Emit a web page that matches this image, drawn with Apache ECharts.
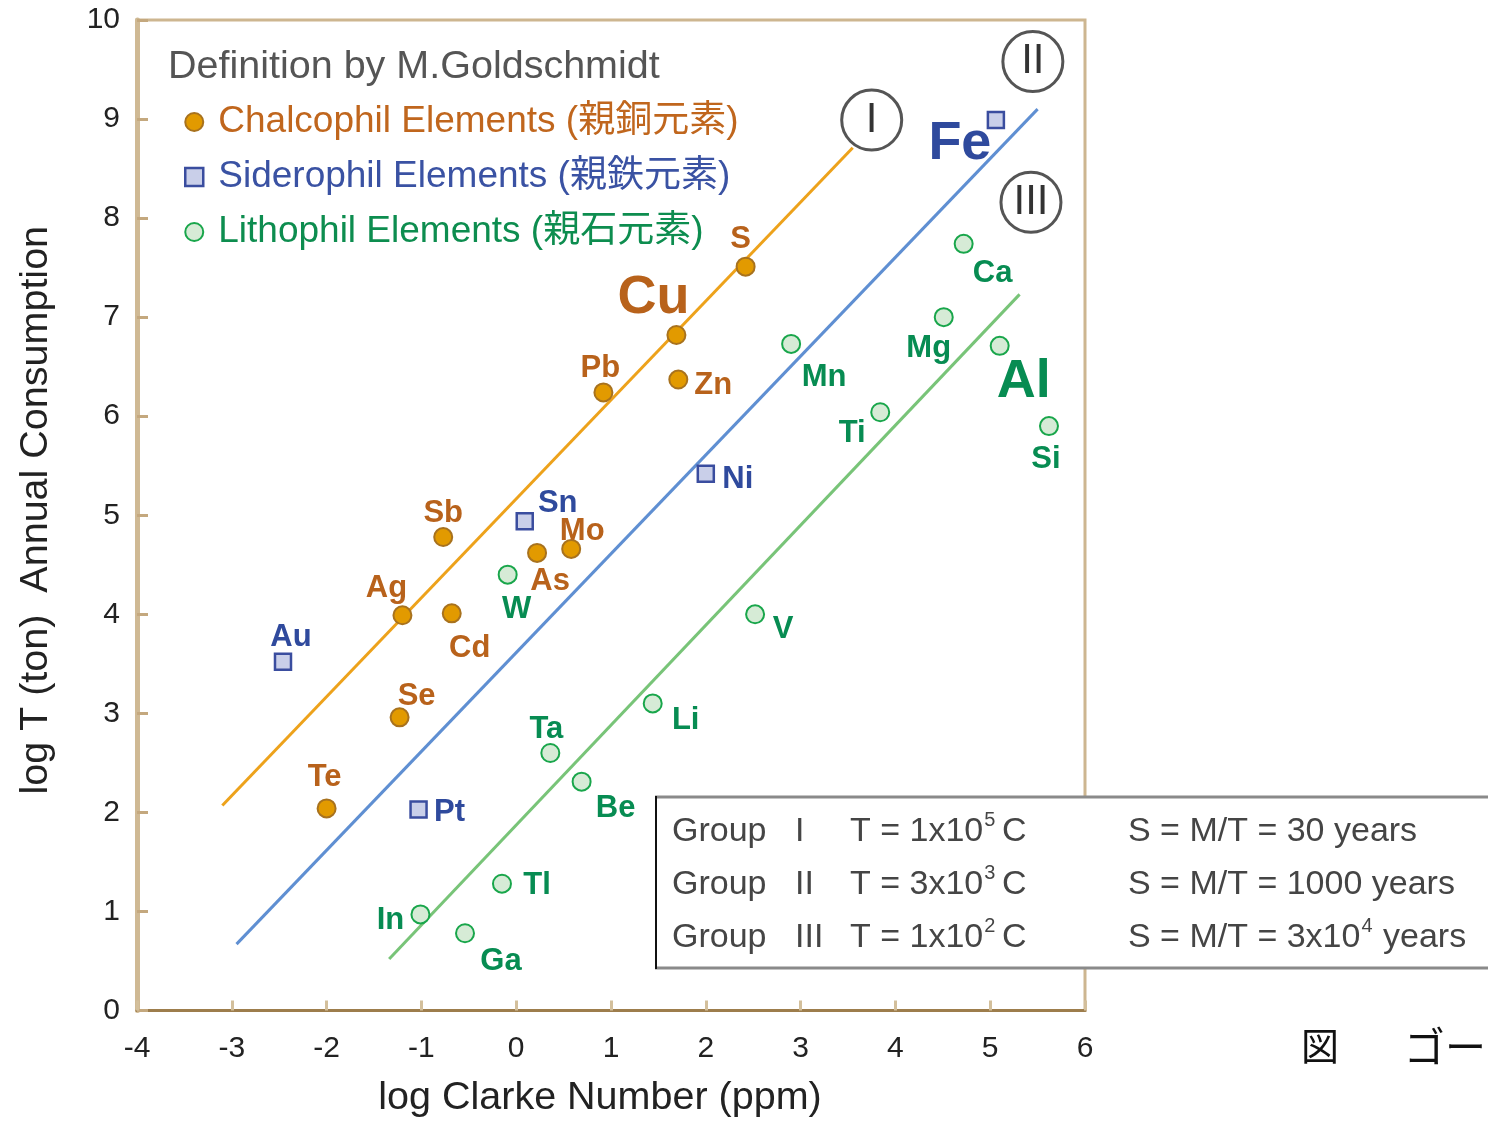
<!DOCTYPE html>
<html>
<head>
<meta charset="utf-8">
<title>Goldschmidt classification — consumption vs. Clarke number</title>
<script src="https://cdn.jsdelivr.net/npm/echarts@6/dist/echarts.min.js"></script>
<style>
  html, body { margin: 0; padding: 0; background: #fff; }
  #chart { width: 1488px; height: 1123px; }
</style>
</head>
<body>
<div id="chart"></div>
<script>
// ---- data -------------------------------------------------------------
// log Clarke number (ppm) vs. log annual consumption T (ton)
const xRange = [-4, 6];
const yRange = [0, 10];

const chalcoNames       = ['S', 'Cu', 'Pb', 'Zn', 'Sb', 'Ag', 'Cd', 'As', 'Mo', 'Se', 'Te'];
const chalcoClarke      = [2.42, 1.69, 0.92, 1.71, -0.77, -1.20, -0.68, 0.22, 0.58, -1.23, -2.00];
const chalcoConsumption = [7.51, 6.82, 6.24, 6.37, 4.78, 3.99, 4.01, 4.62, 4.66, 2.96, 2.04];

const sideroNames       = ['Fe', 'Ni', 'Sn', 'Au', 'Pt'];
const sideroClarke      = [5.06, 2.00, 0.09, -2.46, -1.03];
const sideroConsumption = [8.99, 5.42, 4.94, 3.52, 2.03];

const lithoNames       = ['Ca', 'Mg', 'Al', 'Mn', 'Ti', 'Si', 'W', 'V', 'Li', 'Ta', 'Be', 'Tl', 'In', 'Ga'];
const lithoClarke      = [4.72, 4.51, 5.10, 2.90, 3.84, 5.62, -0.09, 2.52, 1.44, 0.36, 0.69, -0.15, -1.01, -0.54];
const lithoConsumption = [7.74, 7.00, 6.71, 6.73, 6.04, 5.90, 4.40, 4.00, 3.10, 2.60, 2.31, 1.28, 0.97, 0.78];

// reserve-life trend lines (end points)
const groupNames = ['I', 'II', 'III'];
const groupLineI   = [[-3.10, 2.07], [3.55, 8.71]];
const groupLineII  = [[-2.95, 0.67], [5.50, 9.10]];
const groupLineIII = [[-1.34, 0.52], [5.31, 7.23]];

// T = a x 10^b C  and  S = M/T per group
const groupTMantissa = ['1x10', '3x10', '1x10'];
const groupTExponent = ['5', '3', '2'];
const groupLifeText  = [['30 years'], ['1000 years'], ['3x10', '4', ' years']];

const seriesNames = [
  'Chalcophil Elements (親銅元素)',
  'Siderophil Elements (親鉄元素)',
  'Lithophil Elements (親石元素)'
];

// ---- layout & style ---------------------------------------------------
const FONT = "'Liberation Sans', Arial, 'Noto Sans CJK JP', sans-serif";
const CJK  = "'Noto Sans CJK JP', 'Noto Sans CJK SC', sans-serif";

const colors = {
  chalco: { fill: '#e29a00', border: '#a8721e', text: '#b8621b', line: '#eda21b' },
  sidero: { fill: '#c9cfe9', border: '#3a4d9f', text: '#2f4a9d', line: '#5f8fd2' },
  litho:  { fill: '#d6ebd6', border: '#19a64b', text: '#078c52', line: '#78c478' }
};

// label centre relative to its point, in px
const labelOffset = {
  S: [-5, -31], Cu: [-23, -41], Pb: [-3, -28], Zn: [35, 2], Sb: [0, -28], Ag: [-16, -31],
  Cd: [18, 31], As: [13, 25], Mo: [11, -21], Se: [17, -25], Te: [-2, -35],
  Fe: [-36, 20], Ni: [32, 2], Sn: [33, -22], Au: [8, -28], Pt: [31, -1],
  Ca: [29, 26], Mg: [-15, 27], Al: [24, 32], Mn: [33, 30], Ti: [-28, 17], Si: [-3, 29],
  W: [9, 31], V: [28, 11], Li: [33, 13], Ta: [-4, -28], Be: [34, 23], Tl: [35, -2],
  In: [-30, 2], Ga: [36, 24]
};
const LABEL_BASELINE_SHIFT = 4; // glyph centre sits a little below the text box middle
const bigLabels = { Cu: true, Fe: true, Al: true };

// where the circled group numerals sit (data units)
const badgeAt = { I: [3.75, 8.99], II: [5.45, 9.58], III: [5.43, 8.16] };

function points(names, xs, ys, textColor) {
  return names.map((n, i) => {
    const off = labelOffset[n] || [0, -28];
    return {
      name: n,
      value: [xs[i], ys[i]],
      label: {
        offset: [off[0], off[1] + LABEL_BASELINE_SHIFT],
        fontSize: bigLabels[n] ? 54 : 31,
        color: textColor
      }
    };
  });
}

function scatter(name, symbol, size, c, data) {
  return {
    name: name,
    type: 'scatter',
    symbol: symbol,
    symbolSize: size,
    z: 5,
    itemStyle: { color: c.fill, borderColor: c.border, borderWidth: symbol === 'rect' ? 2.5 : 2, opacity: 1 },
    label: {
      show: true,
      position: 'inside',
      formatter: '{b}',
      fontFamily: FONT,
      fontWeight: 'bold',
      color: c.text
    },
    emphasis: { disabled: true },
    data: data
  };
}

function trend(pts, color) {
  return {
    type: 'line',
    data: pts,
    symbol: 'none',
    silent: true,
    z: 2,
    lineStyle: { color: color, width: 3 },
    emphasis: { disabled: true }
  };
}

// ---- summary table (bottom right) -------------------------------------
const TABLE_FONT = 34;
const SUP_FONT = 20;
const measureCtx = document.createElement('canvas').getContext('2d');
function textWidth(str, size) {
  measureCtx.font = size + 'px ' + FONT;
  return measureCtx.measureText(str).width;
}
function tText(str, x, y, size) {
  return {
    type: 'text', x: x, y: y,
    style: {
      text: str, font: size + 'px ' + FONT, fill: '#454545',
      verticalAlign: 'middle', textVerticalAlign: 'middle'
    }
  };
}
const tableGraphics = [];
groupNames.forEach((g, i) => {
  const cy = 832 + i * 53;
  tableGraphics.push(tText('Group', 672, cy, TABLE_FONT));
  tableGraphics.push(tText(g, 795, cy, TABLE_FONT));
  // T = a x 10^b C
  const tStr = 'T = ' + groupTMantissa[i];
  const tW = textWidth(tStr, TABLE_FONT);
  tableGraphics.push(tText(tStr, 850, cy, TABLE_FONT));
  tableGraphics.push(tText(groupTExponent[i], 850 + tW + 1, cy - 12, SUP_FONT));
  tableGraphics.push(tText('C', 1002, cy, TABLE_FONT));
  // S = M/T = ...
  const life = groupLifeText[i];
  const sStr = 'S = M/T = ' + life[0];
  tableGraphics.push(tText(sStr, 1128, cy, TABLE_FONT));
  if (life.length > 1) {
    const sW = textWidth(sStr, TABLE_FONT);
    const supW = textWidth(life[1], SUP_FONT);
    tableGraphics.push(tText(life[1], 1128 + sW + 1, cy - 12, SUP_FONT));
    tableGraphics.push(tText(life[2], 1128 + sW + supW + 2, cy, TABLE_FONT));
  }
});

const chart = echarts.init(document.getElementById('chart'), null, { renderer: 'canvas' });

const option = {
  animation: false,
  backgroundColor: '#ffffff',
  textStyle: { fontFamily: FONT },
  title: {
    text: 'Definition by M.Goldschmidt',
    left: 163, top: 42,
    textStyle: { fontFamily: FONT, fontSize: 39.5, fontWeight: 'normal', color: '#555' }
  },
  legend: {
    orient: 'vertical',
    left: 184, top: 103,
    padding: 0,
    itemWidth: 18, itemHeight: 18,
    itemGap: 17,
    selectedMode: false,
    textStyle: { fontFamily: FONT, fontSize: 37, lineHeight: 38, padding: [0, 0, 0, 10] },
    data: [
      { name: seriesNames[0], textStyle: { color: '#c0661d' } },
      { name: seriesNames[1], textStyle: { color: '#3a52a3' }, itemStyle: { borderWidth: 2.5 } },
      { name: seriesNames[2], textStyle: { color: '#0d8d4f' } }
    ]
  },
  grid: {
    left: 137, top: 20, right: 403, bottom: 109,
    show: true,
    borderColor: '#cdb690',
    borderWidth: 3,
    backgroundColor: 'transparent'
  },
  xAxis: {
    type: 'value',
    min: xRange[0], max: xRange[1], interval: 1,
    name: 'log Clarke Number (ppm)',
    nameLocation: 'middle',
    nameGap: 68,
    nameTextStyle: { fontFamily: FONT, fontSize: 39.5, color: '#222', padding: [0, 22, 0, 0] },
    axisLine: { show: true, onZero: false, lineStyle: { color: '#9d7d4c', width: 3 } },
    axisTick: { show: true, inside: true, length: 10, lineStyle: { color: '#d3bf9b', width: 3 } },
    axisLabel: { fontFamily: FONT, fontSize: 30, color: '#222', margin: 23 },
    splitLine: { show: false }
  },
  yAxis: {
    type: 'value',
    min: yRange[0], max: yRange[1], interval: 1,
    name: 'log T (ton)  Annual Consumption',
    nameLocation: 'middle',
    nameGap: 81,
    nameRotate: 90,
    nameTextStyle: { fontFamily: FONT, fontSize: 39.5, color: '#222', padding: [0, 0, 0, 10] },
    axisLine: { show: true, onZero: false, lineStyle: { color: '#cfb994', width: 5 } },
    axisTick: { show: true, inside: true, length: 11, lineStyle: { color: '#c4a87e', width: 3 } },
    axisLabel: { fontFamily: FONT, fontSize: 30, color: '#222', margin: 17 },
    splitLine: { show: false }
  },
  series: [
    trend(groupLineI, colors.chalco.line),
    trend(groupLineII, colors.sidero.line),
    trend(groupLineIII, colors.litho.line),
    scatter(seriesNames[0], 'circle', 18, colors.chalco,
      points(chalcoNames, chalcoClarke, chalcoConsumption, colors.chalco.text)),
    scatter(seriesNames[1], 'rect', 16, colors.sidero,
      points(sideroNames, sideroClarke, sideroConsumption, colors.sidero.text)),
    scatter(seriesNames[2], 'circle', 18, colors.litho,
      points(lithoNames, lithoClarke, lithoConsumption, colors.litho.text)),
    {
      type: 'scatter',
      symbol: 'circle',
      symbolSize: 60,
      z: 6,
      silent: true,
      itemStyle: { color: '#fff', borderColor: '#555', borderWidth: 3, opacity: 1 },
      label: {
        show: true, position: 'inside', formatter: '{b}',
        fontFamily: FONT, fontSize: 42, color: '#333'
      },
      data: groupNames.map(g => ({ name: g, value: badgeAt[g] }))
    }
  ],
  graphic: [
    {
      type: 'group',
      z: 100,
      children: [
        { type: 'rect', shape: { x: 656, y: 797, width: 840, height: 171 }, style: { fill: '#fff' } },
        { type: 'line', shape: { x1: 655, y1: 797, x2: 1488, y2: 797 }, style: { stroke: '#8a8a8a', lineWidth: 3 } },
        { type: 'line', shape: { x1: 655, y1: 968, x2: 1488, y2: 968 }, style: { stroke: '#8a8a8a', lineWidth: 3 } },
        { type: 'line', shape: { x1: 656, y1: 796, x2: 656, y2: 969 }, style: { stroke: '#111', lineWidth: 2 } }
      ].concat(tableGraphics)
    },
    { type: 'text', left: 1301, top: 1027, style: { text: '図', font: '38px ' + CJK, fill: '#111' } },
    { type: 'text', left: 1404, top: 1026, style: { text: 'ゴー', font: '41px ' + CJK, fill: '#111' } }
  ]
};

chart.setOption(option);
</script>
</body>
</html>
